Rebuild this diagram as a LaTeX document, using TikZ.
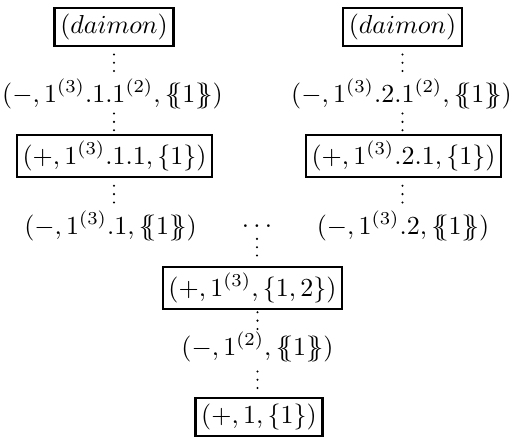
\documentclass[tikz,border=0pt]{standalone}
\usetikzlibrary{decorations.markings}
\newcommand{\dbo}{\{\mkern-6mu\{}
\newcommand{\dbc}{\}\mkern-6mu\}}
\begin{document}
\begin{tikzpicture}[x=0.3846pt,y=-0.3846pt,
  lbl/.style={inner sep=0pt, outer sep=0pt},
  boxed/.style={draw, line width=0.95pt, inner xsep=2.2pt, inner ysep=2.4pt, outer sep=0pt},
  vd/.style={postaction={decorate}, decoration={markings,
     mark=at position 0.5 with {\fill (-8.3,0) circle (1.15); \fill (0,0) circle (1.15); \fill (8.3,0) circle (1.15);}}}]
\useasboundingbox (0,0) rectangle (509,438);
% left column
\node[boxed] (dl) at (114,27) {$(daimon)$};
\node[lbl] (ml1) at (112.5,94) {$(-,1^{(3)}.1.1^{(2)},\dbo 1\dbc)$};
\node[boxed] (bl1) at (114.5,156) {$(+,1^{(3)}.1.1,\{1\})$};
\node[lbl] (ml2) at (110.5,226) {$(-,1^{(3)}.1,\dbo 1\dbc)$};
% right column
\node[boxed] (dr) at (402.5,27) {$(daimon)$};
\node[lbl] (mr1) at (401.5,94) {$(-,1^{(3)}.2.1^{(2)},\dbo 1\dbc)$};
\node[boxed] (br1) at (403.5,156) {$(+,1^{(3)}.2.1,\{1\})$};
\node[lbl] (mr2) at (403,226) {$(-,1^{(3)}.2,\dbo 1\dbc)$};
% middle
\node[lbl] (dd) at (257,226) {$\ldots$};
\node[boxed] (bm) at (252.5,288) {$(+,1^{(3)},\{1,2\})$};
\node[lbl] (ml3) at (257.5,347) {$(-,1^{(2)},\dbo 1\dbc)$};
\node[boxed] (bb) at (259,417) {$(+,1,\{1\})$};
% vertical dots connectors
\path[vd] (dl.south) -- (dl.south |- ml1.north);
\path[vd] (ml1.south -| dl.south) -- (dl.south |- bl1.north);
\path[vd] (bl1.south -| dl.south) -- (dl.south |- ml2.north);
\path[vd] (dr.south) -- (dr.south |- mr1.north);
\path[vd] (mr1.south -| dr.south) -- (dr.south |- br1.north);
\path[vd] (br1.south -| dr.south) -- (dr.south |- mr2.north);
\path[vd] (dd.south) -- (dd.south |- bm.north);
\path[vd] (bm.south -| ml3.north) -- (ml3.north);
\path[vd] (ml3.south) -- (ml3.south |- bb.north);
\end{tikzpicture}
\end{document}
